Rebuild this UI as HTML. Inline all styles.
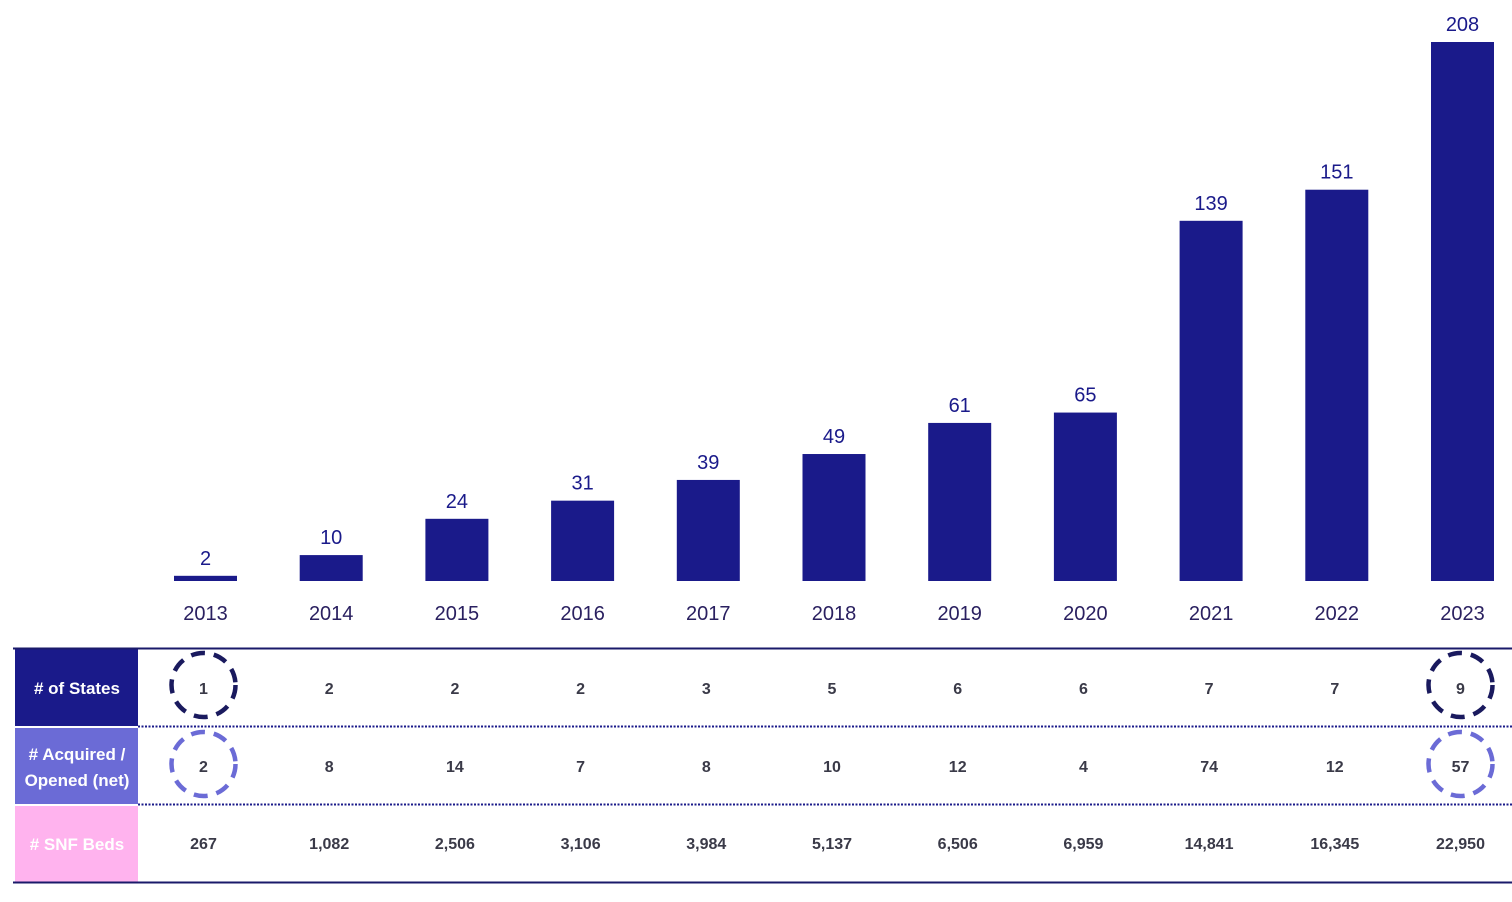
<!DOCTYPE html>
<html><head><meta charset="utf-8"><style>
html,body{margin:0;padding:0;background:#fff;}
svg{display:block;font-family:"Liberation Sans",sans-serif;}
</style></head><body>
<svg id="c" width="1512" height="902" viewBox="0 0 1512 902"></svg>
<script>
const years=["2013","2014","2015","2016","2017","2018","2019","2020","2021","2022","2023"];
const facilities=[2,10,24,31,39,49,61,65,139,151,208];
const states=["1","2","2","2","3","5","6","6","7","7","9"];
const acquired=["2","8","14","7","8","10","12","4","74","12","57"];
const beds=["267","1,082","2,506","3,106","3,984","5,137","6,506","6,959","14,841","16,345","22,950"];
const highlighted=[0,10];

const svgEl=document.getElementById('c');
const NS='http://www.w3.org/2000/svg';
function mk(t,a,txt){const e=document.createElementNS(NS,t);for(const k in a)e.setAttribute(k,a[k]);if(txt!==undefined)e.textContent=txt;svgEl.appendChild(e);return e;}
const baseY=581, topY=42, maxV=208;
const yScale=v=>baseY-(v/maxV)*(baseY-topY);
const xScale=i=>205.5+i*125.7;
const bw=63;
years.forEach((yr,i)=>{
  const b=mk('rect',{x:xScale(i)-bw/2,y:yScale(facilities[i]),width:bw,height:baseY-yScale(facilities[i]),fill:'#1a1a8a'});
  
  
  const v=mk('text',{x:xScale(i),y:yScale(facilities[i])-11,'text-anchor':'middle','font-size':20,fill:'#1a1a8a'},String(facilities[i]));
  
  
  const l=mk('text',{x:xScale(i),y:620,'text-anchor':'middle','font-size':20,fill:'#2a2060'},yr);
  
  
});
function rc(a,name){const e=mk('rect',a);return e;}
rc({x:15,y:649,width:123,height:77,fill:'#1a1a8a'},'states-header');
rc({x:15,y:728,width:123,height:76,fill:'#6b6bd6'},'acquired-header');
rc({x:15,y:806,width:123,height:76,fill:'#ffb3ee'},'beds-header');
let l1=mk('line',{x1:13,y1:648.5,x2:1512,y2:648.5,stroke:'#1a1a6a','stroke-width':2});
let l2=mk('line',{x1:13,y1:882.5,x2:1512,y2:882.5,stroke:'#1a1a6a','stroke-width':2});
let d1=mk('line',{x1:138,y1:726.5,x2:1512,y2:726.5,stroke:'#1a1a8a','stroke-width':2,'stroke-dasharray':'2 1.5'});
let d2=mk('line',{x1:138,y1:804.5,x2:1512,y2:804.5,stroke:'#1a1a8a','stroke-width':2,'stroke-dasharray':'2 1.5'});
function ht(yv,lines,name){const t=mk('text',{x:77,'text-anchor':'middle','font-size':17,'font-weight':'bold',fill:'#fff'});
 lines.forEach((s,k)=>{const ts=document.createElementNS(NS,'tspan');ts.setAttribute('x',77);ts.setAttribute('y',yv+k*26);ts.textContent=s;t.appendChild(ts);});}
ht(694,['# of States'],'states-header-text');
ht(760,['# Acquired /','Opened (net)'],'acquired-header-text');
ht(850,['# SNF Beds'],'beds-header-text');
const rows=[[states,688,'states'],[acquired,766,'acquired'],[beds,843,'beds']];
rows.forEach(([arr,cy,nm])=>{arr.forEach((v,i)=>{
  const t=mk('text',{x:xScale(i)-2,y:cy+6,'text-anchor':'middle','font-size':16,'font-weight':'bold',fill:'#3a3a48'},v);
  
  
});});
highlighted.forEach(i=>{
  const c1=mk('circle',{cx:xScale(i)-2,cy:685,r:32,fill:'none',stroke:'#1a1a5e','stroke-width':4.5,'stroke-dasharray':'14 9'});
  
  
  const c2=mk('circle',{cx:xScale(i)-2,cy:764,r:32,fill:'none',stroke:'#6b6bd6','stroke-width':4.5,'stroke-dasharray':'14 9'});
  
  
});
</script>
</body></html>
